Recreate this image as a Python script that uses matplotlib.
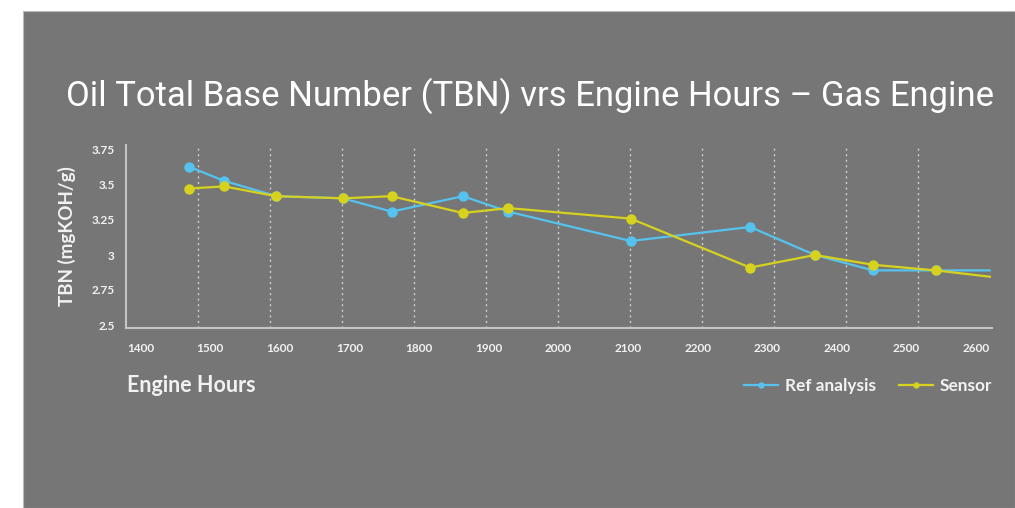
import numpy as np
import matplotlib
matplotlib.use("Agg")
import matplotlib.pyplot as plt
from matplotlib.patches import Rectangle

# data
hours = [1488, 1536, 1609, 1701, 1769, 1868, 1931, 2101, 2267, 2357, 2438, 2525, 2600]
ref_analysis = [3.63, 3.53, 3.42, 3.405, 3.31, 3.42, 3.31, 3.10, 3.20, 3.00, 2.89, 2.89, 2.89]
sensor = [3.475, 3.49, 3.42, 3.405, 3.42, 3.30, 3.335, 3.26, 2.91, 3.00, 2.93, 2.89, 2.845]
x_ticks = [1400, 1500, 1600, 1700, 1800, 1900, 2000, 2100, 2200, 2300, 2400, 2500, 2600]
y_ticks = [2.5, 2.75, 3, 3.25, 3.5, 3.75]
y_tick_labels = ["2.5", "2.75", "3", "3.25", "3.5", "3.75"]

bg = "#767676"
blue = "#56c2ee"
yellow = "#d6d21e"
txt = "#f2f2f2"
axis_col = "#c4c4c4"

W, H = 1015, 508
fig = plt.figure(figsize=(W / 100, H / 100), dpi=100, facecolor="white")

# grey panel
fig.patches.append(Rectangle((23 / W, 0), 1 - 23 / W, 1 - 11 / H,
                             transform=fig.transFigure, facecolor=bg,
                             edgecolor="#bbbbbb", linewidth=0.8, zorder=-10))

ax = fig.add_axes([126 / W, (H - 328) / H, (992 - 126) / W, (328 - 145) / H])
ax.set_facecolor("none")
ax.set_zorder(5)

ax.plot(hours, ref_analysis, color=blue, lw=1.6, marker="o", ms=6.5,
        markevery=list(range(len(hours) - 1)), label="Ref analysis", zorder=3)
ax.plot(hours, sensor, color=yellow, lw=1.6, marker="o", ms=6.5,
        markevery=list(range(len(hours) - 1)), label="Sensor", zorder=4)

ax.set_xlim(1400, 2603)
ax.set_ylim(2.5 - 3 / 140, 3.75 + 5 / 140)
ax.set_xticks(x_ticks)
ax.set_yticks(y_ticks)
ax.set_yticklabels(y_tick_labels)
ax.tick_params(axis="x", labelbottom=False)

for t in x_ticks[1:-1]:
    ax.axvline(t, color="#cfcfcf", lw=1, linestyle=(0, (1.5, 2.5)), zorder=1)

for s in ["top", "right"]:
    ax.spines[s].set_visible(False)
for s in ["left", "bottom"]:
    ax.spines[s].set_color(axis_col)
    ax.spines[s].set_linewidth(1.5)

ax.tick_params(length=0, colors=txt, labelsize=8.5)
ax.tick_params(axis="y", pad=8)
for lab in ax.get_yticklabels():
    lab.set_fontfamily("Lato")
    lab.set_fontweight("bold")

# the original's hour labels run on a slightly tighter spacing than the grid
lab_ax = ax.twiny()
lab_ax.set_xlim(1400 - 14.7 / 0.6958, 2600 + 16 / 0.6958)
lab_ax.set_xticks(x_ticks)
lab_ax.set_xticklabels([str(t) for t in x_ticks])
lab_ax.xaxis.set_ticks_position("bottom")
lab_ax.xaxis.set_label_position("bottom")
lab_ax.tick_params(length=0, colors=txt, labelsize=8.5, pad=11)
for s in lab_ax.spines.values():
    s.set_visible(False)
for lab in lab_ax.get_xticklabels():
    lab.set_fontfamily("Lato")
    lab.set_fontweight("bold")

ax.set_ylabel("TBN (mgKOH/g)", color=txt, fontsize=13.5, fontfamily="Lato",
              fontweight="bold")
ax.yaxis.set_label_coords((76 - 126) / 866, 0.5)

fig.text(66 / W, 1 - 96 / H, "Oil Total Base Number (TBN) vrs Engine Hours \u2013 Gas Engine",
         color="white", fontsize=24.9, fontfamily="Roboto", va="center", ha="left")
fig.text(127 / W, 1 - 386 / H, "Engine Hours", color=txt, fontsize=15.5,
         fontfamily="Lato", fontweight="bold", va="center", ha="left")

leg = fig.legend(loc="center right", bbox_to_anchor=(1008 / W, 1 - 386 / H), ncol=2,
                 frameon=False, markerscale=0.55, handlelength=2.0, columnspacing=1.3,
                 handletextpad=0.4, prop={"family": "Lato", "weight": "bold", "size": 12.4})
for t in leg.get_texts():
    t.set_color(txt)

fig.savefig("out.png", dpi=100, facecolor="white")
